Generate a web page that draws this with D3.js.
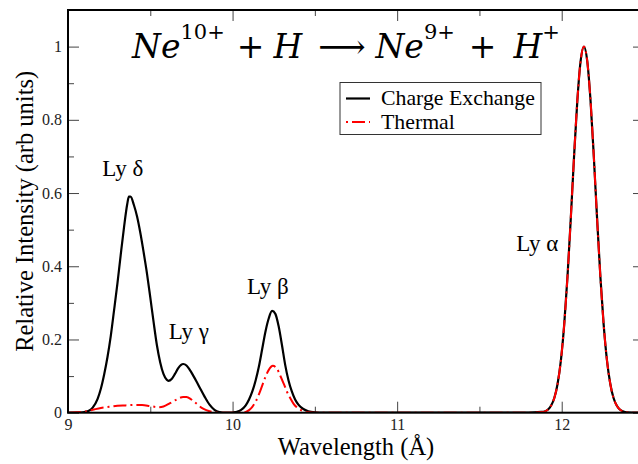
<!DOCTYPE html>
<html>
<head>
<meta charset="utf-8">
<script src="https://cdn.jsdelivr.net/npm/d3@7"></script>
<style>
  html, body { margin: 0; padding: 0; background: #fff; }
  svg { display: block; }
</style>
</head>
<body>
<svg id="chart" width="638" height="464"></svg>
<script>
// Charge-exchange spectrum (Ne10+ + H), sampled wavelength (Å) / relative intensity
const cxWavelength = [
  9.00, 9.05, 9.10, 9.13, 9.15, 9.18, 9.20, 9.22, 9.24, 9.26, 9.28, 9.30, 9.32, 9.34, 9.36, 9.37, 9.38,
  9.40, 9.42, 9.44, 9.46, 9.48, 9.50, 9.52, 9.54, 9.56, 9.58, 9.60, 9.61, 9.63, 9.65, 9.67, 9.70, 9.72,
  9.74, 9.76, 9.78, 9.80, 9.83, 9.86, 9.89, 9.92, 9.96, 10.00, 10.02, 10.05, 10.08, 10.10, 10.12, 10.14,
  10.16, 10.18, 10.20, 10.22, 10.24, 10.26, 10.28, 10.30, 10.32, 10.34, 10.36, 10.38, 10.40, 10.43, 10.46,
  10.50, 10.55, 11.00, 11.50, 11.80, 11.875, 11.895, 11.915, 11.935, 11.955, 11.975, 11.995, 12.015,
  12.035, 12.055, 12.075, 12.095, 12.115, 12.135, 12.155, 12.175, 12.195, 12.215, 12.235, 12.255, 12.275,
  12.295, 12.315, 12.335, 12.355, 12.375, 12.395, 12.45, 12.50
];
const cxIntensity = [
  0.000, 0.000, 0.002, 0.006, 0.014, 0.038, 0.066, 0.105, 0.152, 0.210, 0.280, 0.352, 0.430, 0.505, 0.570, 0.590, 0.590,
  0.568, 0.535, 0.490, 0.437, 0.380, 0.315, 0.248, 0.185, 0.138, 0.106, 0.090, 0.087, 0.092, 0.106, 0.122, 0.133, 0.129,
  0.117, 0.102, 0.086, 0.069, 0.044, 0.022, 0.008, 0.002, 0.000, 0.000, 0.002, 0.007, 0.020, 0.036, 0.058, 0.088,
  0.126, 0.174, 0.222, 0.258, 0.278, 0.270, 0.236, 0.185, 0.130, 0.088, 0.058, 0.036, 0.022, 0.010, 0.004,
  0.001, 0.000, 0.000, 0.000, 0.000, 0.002, 0.003, 0.008, 0.019, 0.040, 0.079, 0.143, 0.240,
  0.371, 0.530, 0.700, 0.853, 0.961, 1.000, 0.961, 0.853, 0.700, 0.530, 0.371, 0.240, 0.143,
  0.079, 0.040, 0.019, 0.008, 0.003, 0.001, 0.000, 0.000
];

// Thermal spectrum, same units
const thWavelength = [
  9.00, 9.05, 9.10, 9.15, 9.20, 9.25, 9.30, 9.35, 9.40, 9.45, 9.50, 9.55, 9.58, 9.62, 9.66, 9.70, 9.72,
  9.75, 9.78, 9.81, 9.84, 9.88, 9.93, 10.00, 10.05, 10.08, 10.10, 10.12, 10.14, 10.16, 10.18, 10.20, 10.22,
  10.245, 10.27, 10.29, 10.31, 10.33, 10.35, 10.37, 10.39, 10.42, 10.46, 10.50, 11.00, 11.50, 11.80,
  11.875, 11.895, 11.915, 11.935, 11.955, 11.975, 11.995, 12.015, 12.035, 12.055, 12.075, 12.095, 12.115,
  12.135, 12.155, 12.175, 12.195, 12.215, 12.235, 12.255, 12.275, 12.295, 12.315, 12.335, 12.355, 12.375,
  12.395, 12.45, 12.50
];
const thIntensity = [
  0.000, 0.001, 0.003, 0.008, 0.013, 0.016, 0.019, 0.020, 0.021, 0.021, 0.018, 0.015, 0.017, 0.026, 0.036, 0.043, 0.043,
  0.036, 0.025, 0.014, 0.007, 0.002, 0.000, 0.000, 0.000, 0.002, 0.007, 0.016, 0.030, 0.050, 0.074, 0.098, 0.117,
  0.128, 0.120, 0.101, 0.080, 0.058, 0.040, 0.025, 0.015, 0.006, 0.001, 0.000, 0.000, 0.000, 0.000,
  0.002, 0.003, 0.008, 0.019, 0.040, 0.079, 0.143, 0.240, 0.371, 0.530, 0.700, 0.853, 0.961,
  1.000, 0.961, 0.853, 0.700, 0.530, 0.371, 0.240, 0.143, 0.079, 0.040, 0.019, 0.008, 0.003,
  0.001, 0.000, 0.000
];

// Axis ticks
const xMajorTicks = [9, 10, 11, 12];
const xMinorTicks = [9.5, 10.5, 11.5];
const yMajorTicks = [0, 0.2, 0.4, 0.6, 0.8, 1];
const yMinorTicks = [0.1, 0.3, 0.5, 0.7, 0.9];

// Line labels, anchored in data coordinates (wavelength, intensity)
const lineLabels = ["Ly δ", "Ly γ", "Ly β", "Ly α"];
const lineLabelWavelength = [9.333, 9.735, 10.214, 11.852];
const lineLabelIntensity = [0.647, 0.201, 0.324, 0.443];

const seriesNames = ["Charge Exchange", "Thermal"];

const SERIF = "'Liberation Serif', 'Times New Roman', Tinos, Times, serif";

const svg = d3.select("#chart");
const margin = { left: 68, top: 10, right: 644, bottom: 412.7 };

const x = d3.scaleLinear().domain([9, 12.5]).range([margin.left, margin.right]);
const y = d3.scaleLinear().domain([0, 1.1]).range([margin.bottom, margin.top]);

const W = margin.right - margin.left, H = margin.bottom - margin.top;

// clip so curves stay inside the frame
svg.append("defs").append("clipPath").attr("id", "plotClip")
  .append("rect").attr("x", margin.left).attr("y", margin.top).attr("width", W).attr("height", H);

// ---- axes (ticks point inward on all four sides) ----
function styleAxis(g) {
  g.select(".domain").remove();
  g.selectAll(".tick line").attr("stroke", "#444").attr("stroke-width", 1);
  g.selectAll(".tick text").attr("fill", "#222")
    .style("font-family", SERIF).style("font-size", "16px");
}
const fmt = d3.format("~g");

svg.append("g").attr("transform", `translate(0,${margin.bottom})`)
  .call(d3.axisBottom(x).tickValues(xMajorTicks).tickSize(-11).tickPadding(6).tickFormat(fmt)).call(styleAxis);
svg.append("g").attr("transform", `translate(0,${margin.bottom})`)
  .call(d3.axisBottom(x).tickValues(xMinorTicks).tickSize(-6).tickFormat("")).call(styleAxis);
svg.append("g").attr("transform", `translate(0,${margin.top})`)
  .call(d3.axisTop(x).tickValues(xMajorTicks).tickSize(-11).tickFormat("")).call(styleAxis);
svg.append("g").attr("transform", `translate(0,${margin.top})`)
  .call(d3.axisTop(x).tickValues(xMinorTicks).tickSize(-6).tickFormat("")).call(styleAxis);

svg.append("g").attr("transform", `translate(${margin.left},0)`)
  .call(d3.axisLeft(y).tickValues(yMajorTicks).tickSize(-11).tickPadding(6).tickFormat(fmt)).call(styleAxis);
svg.append("g").attr("transform", `translate(${margin.left},0)`)
  .call(d3.axisLeft(y).tickValues(yMinorTicks).tickSize(-6).tickFormat("")).call(styleAxis);
svg.append("g").attr("transform", `translate(${margin.right},0)`)
  .call(d3.axisRight(y).tickValues(yMajorTicks).tickSize(-11).tickFormat("")).call(styleAxis);
svg.append("g").attr("transform", `translate(${margin.right},0)`)
  .call(d3.axisRight(y).tickValues(yMinorTicks).tickSize(-6).tickFormat("")).call(styleAxis);

// ---- spectra ----
const line = d3.line().x(d => x(d[0])).y(d => y(d[1])).curve(d3.curveMonotoneX);
const cxData = d3.zip(cxWavelength, cxIntensity);
const thData = d3.zip(thWavelength, thIntensity);

const plot = svg.append("g").attr("clip-path", "url(#plotClip)");
plot.append("path").datum(cxData).attr("d", line)
  .attr("fill", "none").attr("stroke", "#000").attr("stroke-width", 2.2).attr("stroke-linejoin", "round");
plot.append("path").datum(thData).attr("d", line)
  .attr("fill", "none").attr("stroke", "#ff0000").attr("stroke-width", 2)
  .attr("stroke-dasharray", "13,4,2,4");

// ---- frame ----
svg.append("rect").attr("x", margin.left).attr("y", margin.top).attr("width", W).attr("height", H)
  .attr("fill", "none").attr("stroke", "#000").attr("stroke-width", 2);

// ---- line labels ----
svg.append("g").selectAll("text").data(lineLabels).join("text")
  .attr("x", (d, i) => x(lineLabelWavelength[i]))
  .attr("y", (d, i) => y(lineLabelIntensity[i]))
  .attr("text-anchor", "middle").attr("fill", "#000")
  .style("font-family", SERIF).style("font-size", "23px")
  .text(d => d);

// ---- axis titles ----
svg.append("text")
  .attr("x", (margin.left + margin.right) / 2).attr("y", 455)
  .attr("text-anchor", "middle").style("font-family", SERIF).style("font-size", "24.5px")
  .text("Wavelength (Å)");
svg.append("text")
  .attr("transform", `translate(33,${(margin.top + margin.bottom) / 2}) rotate(-90)`)
  .attr("text-anchor", "middle").style("font-family", SERIF).style("font-size", "24.5px")
  .text("Relative Intensity (arb units)");

// ---- legend ----
const legend = svg.append("g");
legend.append("rect").attr("x", 340).attr("y", 82.5).attr("width", 201).attr("height", 52)
  .attr("fill", "#fff").attr("stroke", "#333").attr("stroke-width", 1);
const legendRows = [
  { name: seriesNames[0], color: "#000", dash: null, width: 2.2 },
  { name: seriesNames[1], color: "#ff0000", dash: "13,4,2,4", width: 2 }
];
legendRows.forEach((r, i) => {
  const cy = 98.5 + i * 23.5;
  legend.append("line").attr("x1", 346).attr("x2", 370).attr("y1", cy).attr("y2", cy)
    .attr("stroke", r.color).attr("stroke-width", r.width)
    .attr("stroke-dasharray", r.dash).attr("stroke-dashoffset", r.dash ? 17 : null);
  legend.append("text").attr("x", 381).attr("y", cy + 6.5)
    .style("font-family", SERIF).style("font-size", "21.8px").text(r.name);
});

// ---- reaction title ----
const title = svg.append("text").attr("x", 132).attr("y", 58)
  .style("font-family", "'DejaVu Serif', serif").style("font-size", "33px").attr("fill", "#000");
const sup = s => title.append("tspan").style("font-size", "21px").attr("dy", -19).text(s);
title.append("tspan").attr("font-style", "italic").text("Ne");
sup("10+");
title.append("tspan").attr("dy", 19).attr("dx", 12).text("+");
title.append("tspan").attr("dx", 9).attr("font-style", "italic").text("H");
title.append("tspan").attr("dx", 16).text("⟶");
title.append("tspan").attr("dx", 10).attr("font-style", "italic").text("Ne");
sup("9+");
title.append("tspan").attr("dy", 19).attr("dx", 14).text("+");
title.append("tspan").attr("dx", 17).attr("font-style", "italic").text("H");
sup("+");
</script>
</body>
</html>
